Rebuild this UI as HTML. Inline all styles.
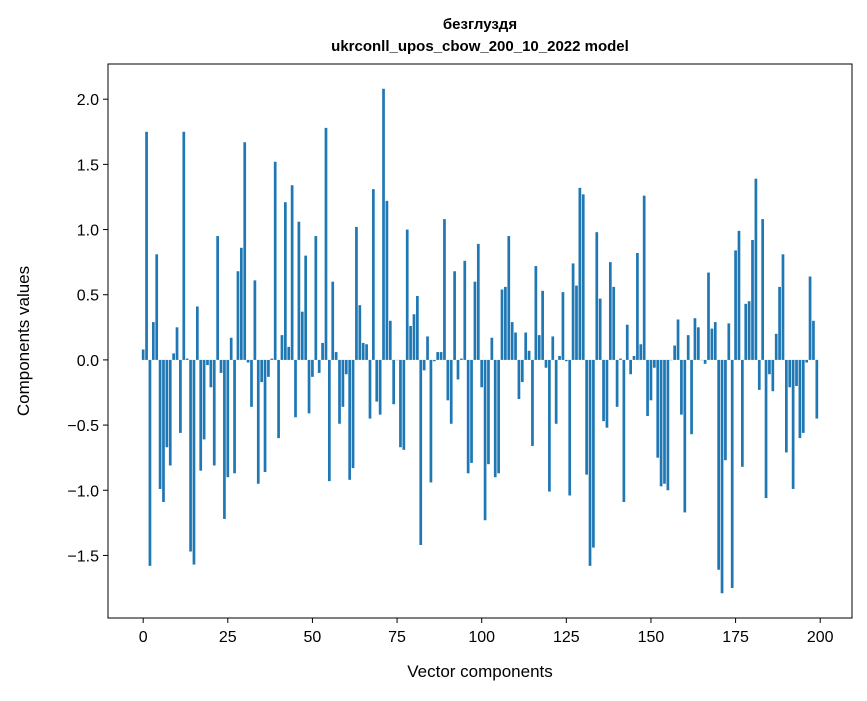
<!DOCTYPE html>
<html><head><meta charset="utf-8"><style>
body{margin:0;background:#fff;}
svg text{font-family:"Liberation Sans","DejaVu Sans",sans-serif;}
</style></head><body>
<svg id="chart" width="867" height="696" xmlns="http://www.w3.org/2000/svg">
<rect width="867" height="696" fill="#fff"/>
<text x="480" y="29" text-anchor="middle" font-size="15" font-weight="bold">безглуздя</text>
<text x="480" y="51" text-anchor="middle" font-size="15" font-weight="bold">ukrconll_upos_cbow_200_10_2022 model</text>
<g id="bars"></g>
<g id="xticks"></g>
<g id="yticks"></g>
<rect x="108" y="64" width="744" height="554" fill="none" stroke="#000" stroke-width="1"/>
<text x="480" y="677" text-anchor="middle" font-size="17">Vector components</text>
<text transform="translate(29,341) rotate(-90)" text-anchor="middle" font-size="17">Components values</text>
</svg>
<script>
const values = [0.08,1.75,-1.58,0.29,0.81,-0.99,-1.09,-0.67,-0.81,0.05,0.25,-0.56,1.75,0.01,-1.47,-1.57,0.41,-0.85,-0.61,-0.04,-0.21,-0.81,0.95,-0.10,-1.22,-0.90,0.17,-0.87,0.68,0.86,1.67,-0.02,-0.36,0.61,-0.95,-0.17,-0.86,-0.13,0.01,1.52,-0.60,0.19,1.21,0.10,1.34,-0.44,1.06,0.37,0.80,-0.41,-0.13,0.95,-0.10,0.13,1.78,-0.93,0.60,0.06,-0.49,-0.36,-0.11,-0.92,-0.83,1.02,0.42,0.13,0.12,-0.45,1.31,-0.32,-0.42,2.08,1.22,0.30,-0.34,0.00,-0.67,-0.69,1.00,0.26,0.35,0.49,-1.42,-0.08,0.18,-0.94,-0.01,0.06,0.06,1.08,-0.31,-0.49,0.68,-0.15,0.01,0.76,-0.87,-0.79,0.60,0.89,-0.21,-1.23,-0.80,0.17,-0.90,-0.87,0.54,0.56,0.95,0.29,0.21,-0.30,-0.17,0.21,0.07,-0.66,0.72,0.19,0.53,-0.06,-1.01,0.18,-0.49,0.03,0.52,-0.01,-1.04,0.74,0.57,1.32,1.27,-0.88,-1.58,-1.44,0.98,0.47,-0.47,-0.52,0.75,0.56,-0.36,0.01,-1.09,0.27,-0.11,0.03,0.82,0.12,1.26,-0.43,-0.31,-0.06,-0.75,-0.97,-0.95,-1.00,0.00,0.11,0.31,-0.42,-1.17,0.19,-0.57,0.32,0.25,0.00,-0.03,0.67,0.24,0.29,-1.61,-1.79,-0.77,0.28,-1.75,0.84,0.99,-0.82,0.43,0.45,0.92,1.39,-0.23,1.08,-1.06,-0.11,-0.24,0.20,0.56,0.81,-0.71,-0.21,-0.99,-0.20,-0.60,-0.56,-0.02,0.64,0.30,-0.45];
const xTicks = [0,25,50,75,100,125,150,175,200];
const yTicks = [-1.5,-1.0,-0.5,0.0,0.5,1.0,1.5,2.0];
const yTickLabels = ["\u22121.5","\u22121.0","\u22120.5","0.0","0.5","1.0","1.5","2.0"];

const NS="http://www.w3.org/2000/svg";
const L=108,R=852,T=64,B=618;
const xmin=-10.39,xmax=209.39,ymin=-1.98,ymax=2.27;
const xs=v=>L+(v-xmin)/(xmax-xmin)*(R-L);
const ys=v=>B-(v-ymin)/(ymax-ymin)*(B-T);
const bars=document.getElementById('bars');
values.forEach((v,i)=>{
  const r=document.createElementNS(NS,'rect');
  const x0=xs(i-0.4),x1=xs(i+0.4);
  const y0=ys(Math.max(v,0)),y1=ys(Math.min(v,0));
  r.setAttribute('x',x0);r.setAttribute('width',x1-x0);
  r.setAttribute('y',y0);r.setAttribute('height',Math.max(y1-y0,0.3));
  r.setAttribute('fill','#1f77b4');
  
  
  bars.appendChild(r);
});
const xg=document.getElementById('xticks');
xTicks.forEach(t=>{
  const x=xs(t);
  const l=document.createElementNS(NS,'line');
  l.setAttribute('x1',x);l.setAttribute('x2',x);l.setAttribute('y1',B);l.setAttribute('y2',B+5);
  l.setAttribute('stroke','#000');
  
  
  xg.appendChild(l);
  const tx=document.createElementNS(NS,'text');
  tx.setAttribute('x',x);tx.setAttribute('y',B+24);tx.setAttribute('text-anchor','middle');tx.setAttribute('font-size','16');
  tx.textContent=t;
  
  
  xg.appendChild(tx);
});
const yg=document.getElementById('yticks');
yTicks.forEach((t,i)=>{
  const y=ys(t);
  const l=document.createElementNS(NS,'line');
  l.setAttribute('x1',L-5);l.setAttribute('x2',L);l.setAttribute('y1',y);l.setAttribute('y2',y);
  l.setAttribute('stroke','#000');
  
  
  yg.appendChild(l);
  const tx=document.createElementNS(NS,'text');
  tx.setAttribute('x',L-9);tx.setAttribute('y',y+6);tx.setAttribute('text-anchor','end');tx.setAttribute('font-size','16');
  tx.textContent=yTickLabels[i];
  
  
  yg.appendChild(tx);
});
</script>
</body></html>
